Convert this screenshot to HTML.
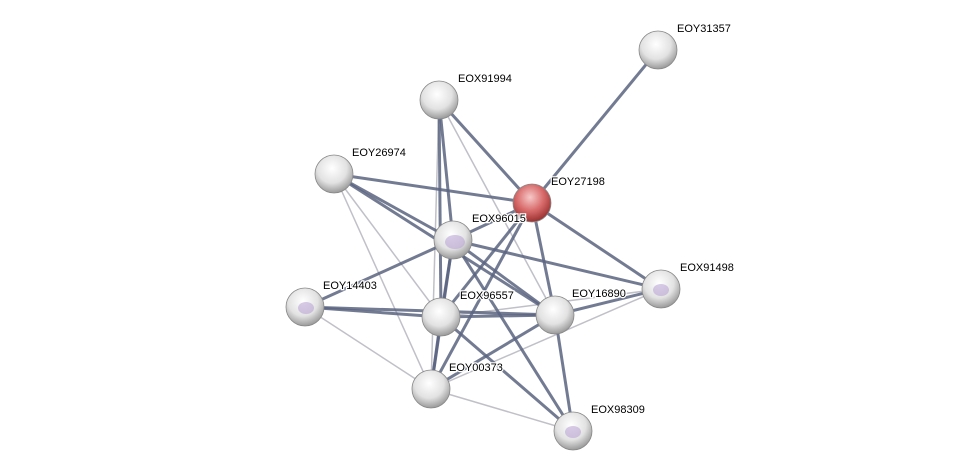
<!DOCTYPE html>
<html><head><style>body{margin:0;background:#fff}svg{display:block}text{font-family:"Liberation Sans",sans-serif;font-size:11px;fill:#000;stroke:#fff;stroke-width:2.5px;paint-order:stroke}</style></head><body>
<svg width="976" height="476" viewBox="0 0 976 476" xmlns="http://www.w3.org/2000/svg">
<defs>
<radialGradient id="g" cx="0.45" cy="0.35" r="0.65"><stop offset="0" stop-color="#fff"/><stop offset="0.6" stop-color="#e2e2e2"/><stop offset="1" stop-color="#9a9a9a"/></radialGradient>
<radialGradient id="r" cx="0.45" cy="0.35" r="0.65"><stop offset="0" stop-color="#f7c8c8"/><stop offset="0.55" stop-color="#d86a6a"/><stop offset="1" stop-color="#9a3030"/></radialGradient>
</defs>
<g stroke="#c0c0c8" stroke-width="1.5">
<line x1="334" y1="174" x2="431" y2="389"/><line x1="305" y1="307" x2="431" y2="389"/>
<line x1="431" y1="389" x2="573" y2="431"/><line x1="431" y1="389" x2="661" y2="289"/>
<line x1="439" y1="100" x2="431" y2="389"/><line x1="439" y1="100" x2="555" y2="315"/>
<line x1="441" y1="317" x2="661" y2="289"/><line x1="334" y1="174" x2="441" y2="317"/>
</g>
<g stroke="#5a6480" stroke-width="3" stroke-opacity="0.85">
<line x1="532" y1="203" x2="658" y2="50"/><line x1="532" y1="203" x2="439" y2="100"/>
<line x1="532" y1="203" x2="334" y2="174"/><line x1="532" y1="203" x2="453" y2="240"/>
<line x1="532" y1="203" x2="661" y2="289"/><line x1="532" y1="203" x2="441" y2="317"/>
<line x1="532" y1="203" x2="555" y2="315"/><line x1="532" y1="203" x2="431" y2="389"/>
<line x1="439" y1="100" x2="453" y2="240"/><line x1="439" y1="100" x2="441" y2="317"/>
<line x1="334" y1="174" x2="453" y2="240"/><line x1="334" y1="174" x2="555" y2="315"/>
<line x1="453" y1="240" x2="305" y2="307"/><line x1="453" y1="240" x2="441" y2="317"/>
<line x1="453" y1="240" x2="555" y2="315"/><line x1="453" y1="240" x2="661" y2="289"/>
<line x1="453" y1="240" x2="431" y2="389"/><line x1="453" y1="240" x2="573" y2="431"/>
<line x1="305" y1="307" x2="441" y2="317"/><line x1="305" y1="307" x2="555" y2="315"/>
<line x1="441" y1="317" x2="555" y2="315"/><line x1="441" y1="317" x2="431" y2="389"/>
<line x1="441" y1="317" x2="573" y2="431"/><line x1="555" y1="315" x2="661" y2="289"/>
<line x1="555" y1="315" x2="431" y2="389"/><line x1="555" y1="315" x2="573" y2="431"/>
</g>
<g stroke="#888" stroke-width="0.8">
<circle cx="658" cy="50" r="19" fill="url(#g)"/><circle cx="439" cy="100" r="19" fill="url(#g)"/>
<circle cx="334" cy="174" r="19" fill="url(#g)"/><circle cx="532" cy="203" r="19" fill="url(#r)"/>
<circle cx="453" cy="240" r="19" fill="url(#g)"/><circle cx="661" cy="289" r="19" fill="url(#g)"/>
<circle cx="305" cy="307" r="19" fill="url(#g)"/><circle cx="441" cy="317" r="19" fill="url(#g)"/>
<circle cx="555" cy="315" r="19" fill="url(#g)"/><circle cx="431" cy="389" r="19" fill="url(#g)"/>
<circle cx="573" cy="431" r="19" fill="url(#g)"/>
</g>
<g fill="#b098d0" opacity="0.5">
<ellipse cx="455" cy="242" rx="10" ry="7"/><ellipse cx="661" cy="290" rx="8" ry="6"/>
<ellipse cx="306" cy="308" rx="8" ry="6"/><ellipse cx="573" cy="432" rx="8" ry="6"/>
</g>
<text x="677" y="32">EOY31357</text><text x="458" y="82">EOX91994</text>
<text x="352" y="156">EOY26974</text><text x="551" y="185">EOY27198</text>
<text x="472" y="222">EOX96015</text><text x="680" y="271">EOX91498</text>
<text x="323" y="289">EOY14403</text><text x="460" y="299">EOX96557</text>
<text x="572" y="297">EOY16890</text><text x="449" y="371">EOY00373</text>
<text x="591" y="413">EOX98309</text>
</svg>
</body></html>
